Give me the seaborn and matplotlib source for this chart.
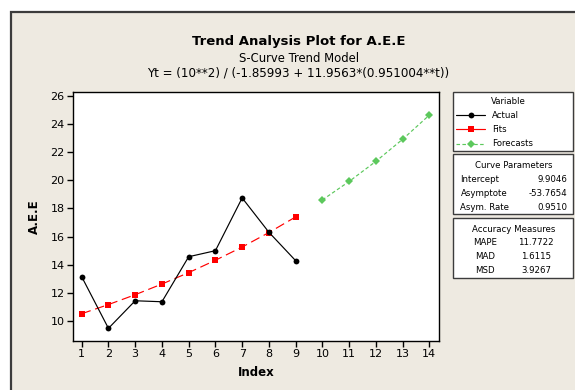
import matplotlib
matplotlib.use("Agg")
import matplotlib.pyplot as plt
from matplotlib.patches import Rectangle
from matplotlib.lines import Line2D
import pandas as pd
import seaborn as sns

# Observed series and the fitted S-curve values
index_actual = [1, 2, 3, 4, 5, 6, 7, 8, 9]
actual = [13.15, 9.48, 11.44, 11.37, 14.57, 15.00, 18.75, 16.31, 14.29]
fits = [10.52, 11.17, 11.87, 12.63, 13.44, 14.32, 15.26, 16.29, 17.40]
index_forecast = [10, 11, 12, 13, 14]
forecasts = [18.61, 19.92, 21.35, 22.92, 24.64]

x_ticks = list(range(1, 15))
y_ticks = [10, 12, 14, 16, 18, 20, 22, 24, 26]

title = "Trend Analysis Plot for A.E.E"
subtitle = "S-Curve Trend Model"
equation = "Yt = (10**2) / (-1.85993 + 11.9563*(0.951004**t))"

legend_names = ["Actual", "Fits", "Forecasts"]
curve_labels = ["Intercept", "Asymptote", "Asym. Rate"]
curve_values = ["9.9046", "-53.7654", "0.9510"]
accuracy_labels = ["MAPE", "MAD", "MSD"]
accuracy_values = ["11.7722", "1.6115", "3.9267"]

sns.set_theme(style="white")
plt.rcParams["font.family"] = ["DejaVu Sans"]
plt.rcParams["text.color"] = "black"

W, H = 575, 390
fig = plt.figure(figsize=(W / 100, H / 100), dpi=100)
fig.patch.set_facecolor("white")


def fx(x):
    return x / W


def fy(y):
    return 1 - y / H


PANEL = "#EEEAE1"
EDGE = "#3c3c3c"
GREEN = "#5CC85C"
LW = 0.85

# beige panel with dark frame, drawn behind everything
panel = Rectangle((fx(11), -0.05), 1.2, fy(12) + 0.05,
                  transform=fig.transFigure, facecolor=PANEL,
                  edgecolor=EDGE, linewidth=1.6, zorder=-10)
fig.patches.append(panel)

ax = fig.add_axes([fx(73), fy(341), fx(439) - fx(73), fy(92) - fy(341)])
ax.set_zorder(1)
ax.set_facecolor("white")

df_actual = pd.DataFrame({"Index": index_actual, "A.E.E": actual})
df_fits = pd.DataFrame({"Index": index_actual, "A.E.E": fits})
df_fc = pd.DataFrame({"Index": index_forecast, "A.E.E": forecasts})

sns.lineplot(data=df_fits, x="Index", y="A.E.E", ax=ax, color="red",
             linewidth=LW, linestyle=(0, (8, 4)), marker="s", markersize=4.2,
             markeredgewidth=0, zorder=2)
sns.lineplot(data=df_actual, x="Index", y="A.E.E", ax=ax, color="black",
             linewidth=LW, marker="o", markersize=4.2, markeredgewidth=0,
             zorder=3)
sns.lineplot(data=df_fc, x="Index", y="A.E.E", ax=ax, color=GREEN,
             linewidth=LW, linestyle=(0, (3, 2)), marker="D", markersize=4.4,
             markeredgewidth=0, zorder=2)

ax.set_xlim(0.675, 14.36)
ax.set_ylim(8.58, 26.28)
ax.set_xticks(x_ticks)
ax.set_yticks(y_ticks)
ax.tick_params(axis="both", direction="out", length=4, width=1,
               colors="black", labelsize=8, pad=2, bottom=True, left=True)
for s in ax.spines.values():
    s.set_visible(True)
    s.set_color("black")
    s.set_linewidth(1.0)
ax.set_xlabel("")
ax.set_ylabel("")

# titles
fig.text(fx(299), fy(41), title, ha="center", va="center",
         fontsize=9.5, fontweight="bold", color="black")
fig.text(fx(299), fy(58), subtitle, ha="center", va="center",
         fontsize=8.4, color="black")
fig.text(fx(298), fy(73.5), equation, ha="center", va="center",
         fontsize=8.6, color="black")

# axis titles
fig.text(fx(256), fy(372.5), "Index", ha="center", va="center",
         fontsize=8.5, fontweight="bold", color="black")
fig.text(fx(34), fy(216.5), "A.E.E", ha="center", va="center",
         fontsize=8.5, fontweight="bold", rotation=90, color="black")


# side boxes
def box(y0, y1):
    fig.patches.append(Rectangle((fx(452.7), fy(y1)), fx(573.3) - fx(452.7),
                                 fy(y0) - fy(y1), transform=fig.transFigure,
                                 facecolor="white", edgecolor=EDGE,
                                 linewidth=1.0, zorder=1))


box(91.7, 150.7)
box(154, 214.3)
box(218.3, 277.7)

LFS = 6.2
fig.text(fx(508), fy(101.5), "Variable", ha="center", va="center",
         fontsize=LFS, color="black")
styles = [
    dict(color="black", linestyle="-", marker="o"),
    dict(color="red", linestyle="-", marker="s"),
    dict(color=GREEN, linestyle=(0, (3, 2)), marker="D"),
]
for name, st, y in zip(legend_names, styles, [115.3, 129.3, 143.5]):
    fig.lines.append(Line2D([fx(456), fx(485)], [fy(y), fy(y)],
                            transform=fig.transFigure, linewidth=LW,
                            color=st["color"], linestyle=st["linestyle"],
                            zorder=2))
    fig.lines.append(Line2D([fx(470.5)], [fy(y)], transform=fig.transFigure,
                            marker=st["marker"], markersize=4.2,
                            markeredgewidth=0, color=st["color"],
                            linestyle="none", zorder=3))
    fig.text(fx(491.7), fy(y), name, ha="left", va="center", fontsize=LFS,
             color="black")

fig.text(fx(513.5), fy(165.7), "Curve Parameters", ha="center", va="center",
         fontsize=LFS, color="black")
for lab, val, y in zip(curve_labels, curve_values, [179.5, 193.7, 207.7]):
    fig.text(fx(460.5), fy(y), lab, ha="left", va="center", fontsize=LFS,
             color="black")
    fig.text(fx(567.7), fy(y), val, ha="right", va="center", fontsize=LFS,
             color="black")

fig.text(fx(513.5), fy(229), "Accuracy Measures", ha="center", va="center",
         fontsize=LFS, color="black")
for lab, val, y in zip(accuracy_labels, accuracy_values, [242.5, 256.5, 270.3]):
    fig.text(fx(485), fy(y), lab, ha="center", va="center", fontsize=LFS,
             color="black")
    fig.text(fx(536), fy(y), val, ha="center", va="center", fontsize=LFS,
             color="black")

fig.savefig("out.png", dpi=100, facecolor=fig.get_facecolor())
